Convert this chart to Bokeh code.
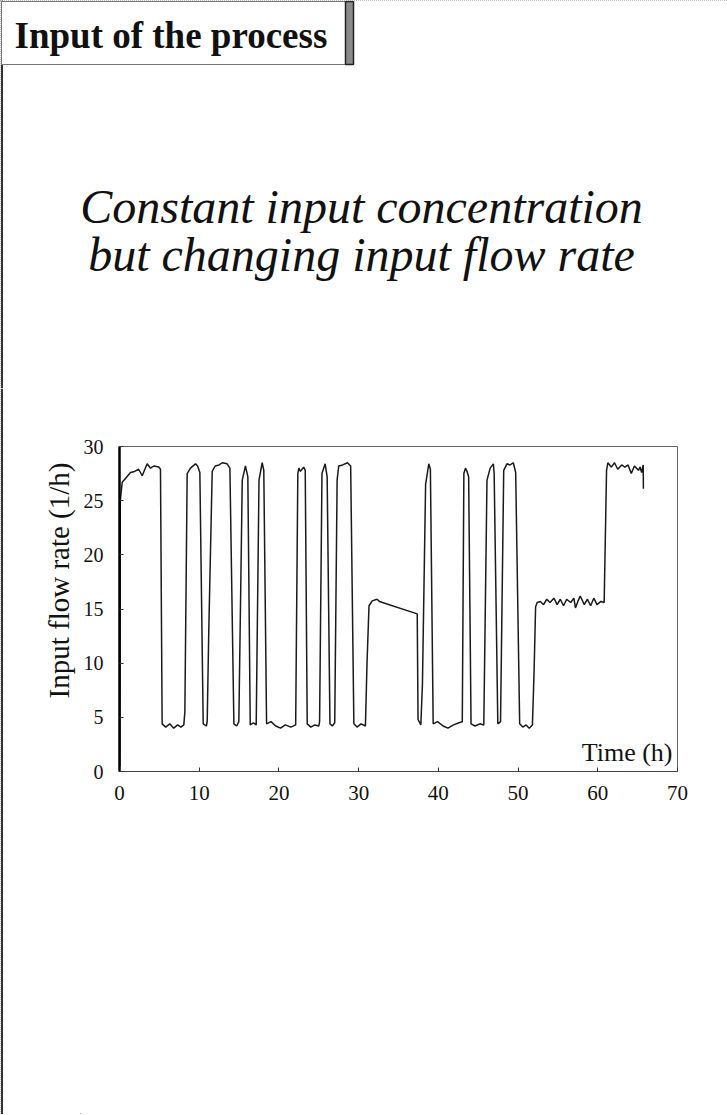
import math
from bokeh.plotting import figure
from bokeh.models import Range1d, Label, FixedTicker
from bokeh.layouts import column, row
from bokeh.embed import file_html
from bokeh.resources import INLINE
from bokeh.core.properties import value

# ---------------- texts ----------------
box_title = "Input of the process"
heading_lines = ["Constant input concentration", "but changing input flow rate"]
x_label = "Time (h)"
y_label = "Input flow rate (1/h)"
x_ticks = [0, 10, 20, 30, 40, 50, 60, 70]
y_ticks = [0, 5, 10, 15, 20, 25, 30]

# ---------------- data ----------------
time_h = [
    0.05, 0.10, 0.34, 0.8, 1.38, 1.9, 2.4, 2.85, 3.47, 3.9, 4.3, 4.93, 5.14,
    5.35, 5.8, 6.3, 6.8, 7.3, 7.7, 8.07, 8.2, 8.49, 8.9, 9.54, 9.8, 10.08,
    10.5, 10.9, 11.0, 11.2, 11.63, 12.0, 12.5, 12.88, 13.5, 13.85,
    14.35, 14.7, 14.97, 15.4, 15.8, 16.1, 16.4, 16.8, 17.15, 17.5, 17.9, 18.1,
    18.45, 19.0, 19.6, 20.2, 20.8, 21.5, 22.1, 22.37, 22.5, 22.7, 23.1, 23.3,
    23.55, 24.0, 24.5, 25.0, 25.1, 25.4, 25.8, 26.05, 26.4, 26.7, 27.0, 27.3,
    27.5, 28.0, 28.6, 29.0, 29.4, 29.8, 30.3, 30.85, 31.05, 31.3, 31.7, 32.3,
    32.6, 37.35, 37.45, 37.8, 38.0, 38.4, 38.8, 39.0, 39.35, 39.9, 40.6, 41.2,
    41.9, 42.6, 43.0, 43.2, 43.4, 43.6, 43.8, 44.1, 44.6, 45.2, 45.7, 46.1,
    46.5, 46.9, 47.0, 47.46, 47.8, 48.2, 48.6, 49.0, 49.4, 49.7, 50.2, 50.6,
    51.0, 51.4, 51.8, 52.0, 52.2, 52.4, 52.8, 53.2, 53.6, 54.0, 54.5, 54.9,
    55.3, 55.7, 56.1, 56.6, 57.0, 57.2, 57.5, 57.8, 58.3, 58.7, 59.1, 59.5,
    59.9, 60.4, 60.8, 61.1, 61.26, 61.7, 62.1, 62.5, 63.0, 63.4, 63.8, 64.2,
    64.6, 65.1, 65.3, 65.5, 65.7, 65.72,
]
flow_lph = [
    0.5, 25.0, 26.7, 27.1, 27.6, 27.7, 27.9, 27.3, 28.4, 28.0, 28.2, 28.1, 27.9,
    4.4, 4.1, 4.4, 4.0, 4.3, 4.1, 4.3, 5.5, 27.5, 28.0, 28.4, 28.2, 27.6,
    4.4, 4.2, 4.6, 13.0, 27.7, 28.2, 28.3, 28.5, 28.4, 28.0,
    4.4, 4.2, 4.6, 26.9, 28.2, 27.2, 4.3, 4.5, 4.3, 26.9, 28.5, 27.8,
    4.4, 4.6, 4.2, 4.0, 4.3, 4.1, 4.3, 27.5, 28.0, 27.7, 28.1, 27.8,
    4.4, 4.1, 4.3, 4.2, 4.6, 27.5, 28.4, 27.2, 4.4, 4.2, 4.5, 26.9,
    28.2, 28.3, 28.5, 28.2, 4.4, 4.1, 4.4, 4.2, 10.0, 15.3, 15.75, 15.9,
    15.7, 14.55, 4.8, 4.3, 8.0, 26.5, 28.4, 27.9, 4.4, 4.6, 4.2, 4.0,
    4.3, 4.5, 4.6, 27.5, 28.0, 27.7, 27.2, 4.4, 4.2, 4.4, 4.3, 26.9,
    28.0, 28.4, 27.5, 4.4, 4.6, 27.8, 28.4, 28.3, 28.5, 27.6, 4.4, 4.1,
    4.3, 4.0, 4.3, 9.0, 15.2, 15.6, 15.7, 15.4, 15.9, 15.6, 16.0, 15.4,
    15.9, 15.3, 15.9, 15.6, 16.0, 15.1, 15.7, 16.2, 15.4, 15.9, 15.3, 16.0,
    15.4, 15.7, 15.6, 27.8, 28.5, 28.1, 28.5, 27.9, 28.3, 28.1, 28.3, 27.5,
    28.2, 27.8, 28.1, 27.6, 28.3, 26.1,
]

SERIF = value("Liberation Serif")
INK = "#111111"
PAGE_W = 727
HEAD_H = 388
LOW_H = 726
YLAB_W = 80


def no_align(fig):
    try:
        fig.frame_align = False
    except Exception:
        pass


def blank(width, height):
    f = figure(width=width, height=height, x_range=Range1d(0, width),
               y_range=Range1d(height, 0), x_axis_type=None, y_axis_type=None,
               output_backend="svg", toolbar_location=None,
               min_border=0, outline_line_color=None)
    f.grid.visible = False
    f.background_fill_color = "white"
    f.border_fill_color = "white"
    no_align(f)
    return f


# ---------------- heading panel ----------------
head = blank(PAGE_W, HEAD_H)
head.segment(x0=[1.5], y0=[0], x1=[1.5], y1=[HEAD_H], line_color="#333333", line_width=2)
# boxed title with a shadow bar on its right
head.quad(left=[1], right=[345], top=[1], bottom=[64],
          fill_color="white", line_color="#777777", line_width=1)
head.quad(left=[345], right=[353], top=[1], bottom=[64],
          fill_color="#8a8a8a", line_color="#222222", line_width=1.5)
head.text(x=[14], y=[34.5], text=[box_title], text_font=SERIF,
          text_font_style="bold", text_font_size="37px", text_color=INK,
          text_align="left", text_baseline="alphabetic")
# italic heading
head.text(x=[361, 361], y=[205.5, 253.5], text=heading_lines, text_font=SERIF,
          text_font_style="italic", text_font_size="48px", text_color=INK,
          text_align="center", text_baseline="alphabetic")

# ---------------- y axis title strip ----------------
ylab = blank(YLAB_W, LOW_H)
ylab.segment(x0=[1.5], y0=[0], x1=[1.5], y1=[LOW_H], line_color="#333333", line_width=2)
ylab.text(x=[58], y=[192], text=[y_label], angle=math.pi / 2, text_font=SERIF,
          text_font_size="29px", text_color=INK,
          text_align="center", text_baseline="alphabetic")

# ---------------- chart ----------------
p = figure(frame_width=558, frame_height=325,
           min_border_left=39, min_border_right=PAGE_W - YLAB_W - 39 - 558,
           min_border_top=58, min_border_bottom=LOW_H - 58 - 325,
           x_range=Range1d(0, 70), y_range=Range1d(0, 30),
           output_backend="svg", toolbar_location=None)
no_align(p)
p.grid.visible = False
p.background_fill_color = "white"
p.border_fill_color = "white"
p.outline_line_color = "#666666"
p.outline_line_width = 1

p.line(time_h, flow_lph, line_color="#1a1a1a", line_width=1.5)

p.xaxis.ticker = FixedTicker(ticks=x_ticks)
p.yaxis.ticker = FixedTicker(ticks=y_ticks)
for ax in (p.xaxis[0], p.yaxis[0]):
    ax.minor_tick_line_color = None
    ax.major_tick_in = 4
    ax.major_tick_out = 0
    ax.major_tick_line_color = "#333333"
    ax.major_label_text_font = "Liberation Serif"
    ax.major_label_text_color = INK
p.xaxis.axis_line_color = "#444444"
p.xaxis.axis_line_width = 1.2
p.xaxis.major_label_text_font_size = "21px"
p.xaxis.major_label_standoff = 14
p.yaxis.axis_line_color = "#000000"
p.yaxis.axis_line_width = 2.5
p.yaxis.major_label_text_font_size = "20px"
p.yaxis.major_label_standoff = 16

# x axis title inside the frame, bottom right
p.add_layout(Label(x=553, y=19, x_units="screen", y_units="screen",
                   text=x_label, text_font="Liberation Serif",
                   text_font_size="26px", text_color=INK,
                   text_align="right", text_baseline="alphabetic"))

layout = column(head, row(ylab, p, spacing=0), spacing=0,
                styles={"outline": "1px dotted #888888", "outline-offset": "-1px"})
open("out.html", "w").write(file_html(layout, INLINE))
